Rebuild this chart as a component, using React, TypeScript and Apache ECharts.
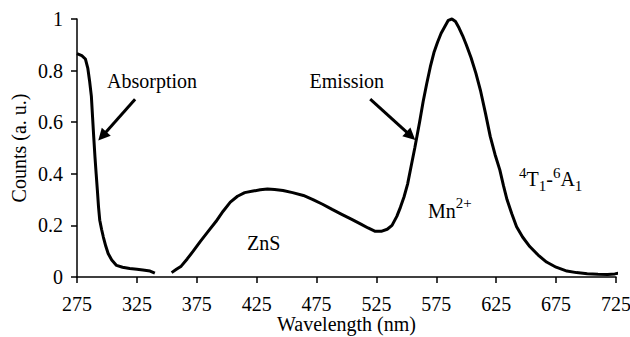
import React, { useEffect, useRef } from 'react';
import * as echarts from 'echarts';

const absWavelength = [275, 279, 282, 284, 285.5, 287, 288, 289, 290, 291, 292, 293, 294, 295.5, 297, 299, 301, 304, 308, 313, 319, 325, 330, 336, 340];
const absCounts = [0.866, 0.858, 0.845, 0.81, 0.76, 0.7, 0.62, 0.54, 0.466, 0.4, 0.337, 0.27, 0.22, 0.185, 0.155, 0.12, 0.091, 0.066, 0.045, 0.038, 0.033, 0.03, 0.027, 0.023, 0.015];

const emWavelength = [354, 358, 362, 367, 372, 378, 385, 391, 397, 403, 409, 415, 422, 428, 434, 440, 447, 455, 464, 472, 480, 488, 496, 504, 512, 518, 524, 529, 534, 538, 542, 545, 548, 551, 554, 557, 561, 564, 567, 570, 573, 576, 579, 582, 585, 588, 591, 594, 597, 600, 604, 608, 612, 616, 620, 624, 628, 631, 634, 638, 642, 647, 653, 660, 667, 675, 684, 692, 701, 710, 718, 724, 728];
const emCounts = [0.017, 0.03, 0.042, 0.07, 0.1, 0.138, 0.18, 0.215, 0.255, 0.29, 0.313, 0.327, 0.333, 0.338, 0.341, 0.339, 0.335, 0.327, 0.316, 0.3, 0.282, 0.262, 0.243, 0.224, 0.205, 0.19, 0.177, 0.177, 0.185, 0.2, 0.235, 0.27, 0.31, 0.36, 0.43, 0.5, 0.6, 0.68, 0.75, 0.815, 0.87, 0.91, 0.945, 0.97, 0.995, 1.0, 0.99, 0.965, 0.935, 0.9, 0.85, 0.79, 0.72, 0.635, 0.545, 0.475, 0.415, 0.355, 0.3, 0.245, 0.195, 0.155, 0.118, 0.085, 0.058, 0.038, 0.023, 0.017, 0.013, 0.011, 0.01, 0.012, 0.016];

const xTicks = [275, 325, 375, 425, 475, 525, 575, 625, 675, 725];

const arrowAbsorption = [[323.5, 0.689], [296.1, 0.546]];
const arrowEmission = [[519.8, 0.689], [553.7, 0.547]];

const FONT = 'Liberation Serif';

export default function App() {
  const ref = useRef<HTMLDivElement>(null);
  useEffect(() => {
    document.body.style.margin = '0';
    if (!ref.current) return;
    const chart = echarts.init(ref.current, undefined, { renderer: 'svg' });
    const absData = absWavelength.map((x, i) => [x, absCounts[i]]);
    const emData = emWavelength.map((x, i) => [x, emCounts[i]]);
    const axisCommon = {
      axisLine: { show: true, lineStyle: { color: '#000', width: 1.5 } },
      axisTick: { show: true, inside: false, length: 6, lineStyle: { color: '#000', width: 1.5 } },
      splitLine: { show: false },
    };
    chart.setOption({
      animation: false,
      backgroundColor: '#fff',
      grid: { left: 77, right: 14, top: 19, bottom: 60, containLabel: false, outerBoundsMode: 'none' },
      xAxis: {
        type: 'value',
        min: 275,
        max: 725,
        name: 'Wavelength (nm)',
        nameLocation: 'middle',
        nameGap: 37,
        nameMoveOverlap: false,
        nameTextStyle: { fontFamily: FONT, fontSize: 20, color: '#000' },
        ...axisCommon,
        axisTick: { ...axisCommon.axisTick, customValues: xTicks },
        axisLabel: { customValues: xTicks, fontFamily: FONT, fontSize: 20, color: '#000', margin: 17 },
      },
      yAxis: {
        type: 'value',
        min: 0,
        max: 1,
        interval: 0.2,
        name: 'Counts (a. u.)',
        nameLocation: 'middle',
        nameGap: 48,
        nameMoveOverlap: false,
        nameTextStyle: { fontFamily: FONT, fontSize: 20, color: '#000' },
        ...axisCommon,
        axisLabel: { fontFamily: FONT, fontSize: 20, color: '#000', margin: 14 },
      },
      series: [
        {
          type: 'line',
          data: absData,
          showSymbol: false,
          clip: false,
          lineStyle: { color: '#000', width: 3 },
          silent: true,
          markLine: {
            silent: true,
            symbol: ['none', 'triangle'],
            symbolSize: 12,
            label: { show: false },
            lineStyle: { color: '#000', width: 3, type: 'solid' },
            itemStyle: { color: '#000' },
            data: [
              [{ coord: arrowAbsorption[0] }, { coord: arrowAbsorption[1] }],
              [{ coord: arrowEmission[0] }, { coord: arrowEmission[1] }],
            ],
          },
        },
        {
          type: 'line',
          data: emData,
          showSymbol: false,
          clip: false,
          lineStyle: { color: '#000', width: 3 },
          silent: true,
        },
      ],
      graphic: [
        {
          type: 'text', x: 107, y: 81,
          style: { text: 'Absorption', font: `20px ${FONT}`, fill: '#000', align: 'left', verticalAlign: 'middle' },
        },
        {
          type: 'text', x: 384, y: 81,
          style: { text: 'Emission', font: `20px ${FONT}`, fill: '#000', align: 'right', verticalAlign: 'middle' },
        },
        {
          type: 'text', x: 247, y: 243,
          style: { text: 'ZnS', font: `20px ${FONT}`, fill: '#000', align: 'left', verticalAlign: 'middle' },
        },
        {
          type: 'text', x: 428, y: 208,
          style: {
            text: '{b|Mn}{s|2+}',
            fill: '#000',
            align: 'left',
            verticalAlign: 'middle',
            rich: {
              b: { fontFamily: FONT, fontSize: 20, lineHeight: 26, verticalAlign: 'bottom' },
              s: { fontFamily: FONT, fontSize: 15, lineHeight: 15, verticalAlign: 'top' },
            },
          },
        },
        {
          type: 'text', x: 519, y: 179,
          style: {
            text: '{s|4}{b|T}{d|1}{b|-}{s|6}{b|A}{d|1}',
            fill: '#000',
            align: 'left',
            verticalAlign: 'middle',
            rich: {
              b: { fontFamily: FONT, fontSize: 20, lineHeight: 28, verticalAlign: 'middle' },
              s: { fontFamily: FONT, fontSize: 15, lineHeight: 15, verticalAlign: 'top' },
              d: { fontFamily: FONT, fontSize: 15, lineHeight: 15, verticalAlign: 'bottom' },
            },
          },
        },
      ],
    });
    return () => chart.dispose();
  }, []);
  return <div ref={ref} style={{ width: 630, height: 337 }} />;
}
